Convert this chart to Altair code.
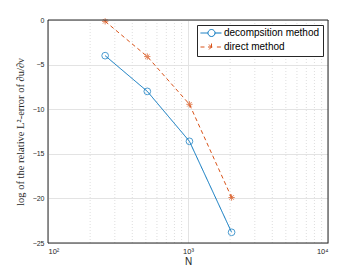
import altair as alt
import pandas as pd

N_values = [256, 512, 1024, 2048]
decomp_err = [-4.0, -8.0, -13.6, -23.8]
direct_err = [-0.15, -4.1, -9.45, -19.9]
series_names = ["decompsition method", "direct method"]
series_colors = ["#0072BD", "#D95319"]

x_tick_values = [100, 1000, 10000]
x_tick_labels = ["10²", "10³", "10⁴"]
x_minor = [200, 300, 400, 500, 600, 700, 800, 900,
           2000, 3000, 4000, 5000, 6000, 7000, 8000, 9000]
y_tick_values = [-25, -20, -15, -10, -5, 0]
x_range = [100, 10000]
y_range = [-25, 0]

df = pd.DataFrame({
    "N": N_values * 2,
    "err": decomp_err + direct_err,
    "method": [series_names[0]] * 4 + [series_names[1]] * 4,
})
minor_df = pd.DataFrame({"N": x_minor})

asterisk = "M0,-1V1M-1,0H1M-0.707,-0.707L0.707,0.707M-0.707,0.707L0.707,-0.707"
leg_circle = ("M-1.286,0H0.857M2.857,0H4.714"
              "M2.857,0A1,1 0 1 1 0.857,0A1,1 0 1 1 2.857,0")
leg_star = ("M-1.286,0H0.3M3.4,0H4.714"
            "M1.857,-1V1M0.857,0H2.857M1.15,-0.707L2.564,0.707M1.15,0.707L2.564,-0.707")

label_expr = " : ".join(
    f"datum.value == {v} ? '{l}'" for v, l in zip(x_tick_values, x_tick_labels)
) + " : ''"

xscale = alt.Scale(type="log", domain=x_range, nice=False)
yscale = alt.Scale(domain=y_range, nice=False)
cscale = alt.Scale(domain=series_names, range=series_colors)
FRAME = "#262626"

x_enc = alt.X("N:Q", scale=xscale, title="N",
              axis=alt.Axis(values=x_tick_values, labelExpr=label_expr,
                            grid=True, gridColor="#e3e3e3", gridWidth=1,
                            domain=False, ticks=False, labelPadding=4,
                            labelFontSize=7.5, labelColor=FRAME,
                            titleFontSize=10, titleColor=FRAME,
                            titleFontWeight="normal", titlePadding=2,
                            labelFont="Liberation Sans", titleFont="Liberation Sans"))
y_enc = alt.Y("err:Q", scale=yscale,
              title="log of the relative L²-error of ∂u/∂ν",
              axis=alt.Axis(values=y_tick_values, grid=True, gridColor="#e3e3e3",
                            domain=False, ticks=False, labelPadding=4,
                            labelFontSize=7, labelColor=FRAME,
                            titleFont="Liberation Serif", titleFontSize=10.5,
                            titleFontWeight="normal", titleColor=FRAME,
                            titlePadding=7, labelFont="Liberation Sans"))

leg = alt.Legend(
    title=None, orient="top-right", offset=5,
    strokeColor=FRAME, fillColor="white", padding=3,
    labelFontSize=10, labelColor="#000000", labelFont="Liberation Sans",
    symbolSize=49, labelOffset=14, rowPadding=2, symbolStrokeWidth=1,
    symbolOpacity=1, cornerRadius=0)

# first layer: invisible points that carry the axes and the legend
legend_layer = alt.Chart(df).mark_point(filled=False, strokeWidth=1, opacity=0).encode(
    x=x_enc, y=y_enc,
    color=alt.Color("method:N", scale=cscale, legend=leg),
    shape=alt.Shape("method:N",
                    scale=alt.Scale(domain=series_names, range=[leg_circle, leg_star]),
                    legend=leg),
)

minor = alt.Chart(minor_df).mark_rule(color="#dedede", strokeDash=[1, 2], strokeWidth=1).encode(
    x=alt.X("N:Q")
)

lines = alt.Chart(df).mark_line(strokeWidth=1).encode(
    x="N:Q", y="err:Q",
    color=alt.Color("method:N"),
    strokeDash=alt.StrokeDash("method:N",
                              scale=alt.Scale(domain=series_names, range=[[1, 0], [4, 3]]),
                              legend=None),
)

pts_c = alt.Chart(df).transform_filter(f"datum.method == '{series_names[0]}'").mark_point(
    shape="circle", size=45, filled=False, strokeWidth=1
).encode(x="N:Q", y="err:Q", color=alt.Color("method:N"))

pts_s = alt.Chart(df).transform_filter(f"datum.method == '{series_names[1]}'").mark_point(
    shape=asterisk, size=40, filled=False, strokeWidth=1
).encode(x="N:Q", y="err:Q", color=alt.Color("method:N"))

frame = alt.Chart().mark_rect(fillOpacity=0, stroke=FRAME, strokeWidth=1).encode(
    x=alt.datum(x_range[0]), x2=alt.datum(x_range[1]),
    y=alt.datum(y_range[0]), y2=alt.datum(y_range[1]),
)

chart = alt.layer(legend_layer, minor, lines, pts_c, pts_s, frame).properties(
    width=280, height=223,
    background="white",
    autosize=alt.AutoSizeParams(type="none"),
    padding={"left": 40, "top": 12, "right": 27, "bottom": 28},
).configure_view(stroke=FRAME, strokeWidth=1)

chart.save("out.html", embed_options={"renderer": "svg", "actions": False})
